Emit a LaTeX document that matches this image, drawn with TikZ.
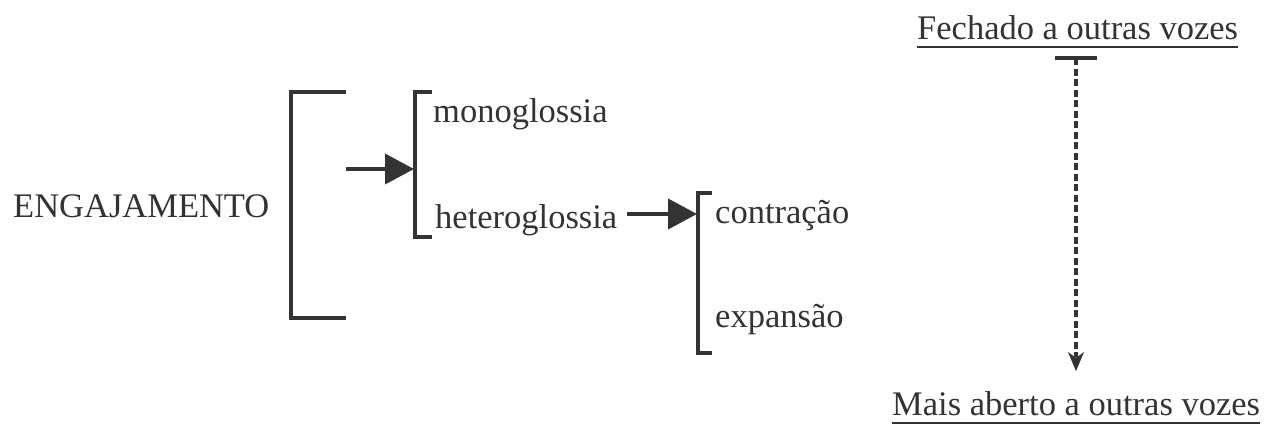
\documentclass[tikz,border=0pt]{standalone}
\usepackage{fontspec}
\setmainfont{LiberationSerif}[Extension=.ttf,UprightFont=*-Regular,BoldFont=*-Bold]
\usetikzlibrary{arrows.meta}
\definecolor{ink}{HTML}{333333}
\begin{document}
\begin{tikzpicture}[x=1pt,y=-1pt,
  lbl/.style={inner sep=0pt,anchor=base west,text=ink,font=\fontsize{34.5}{40}\selectfont},
  brack/.style={draw=ink,line width=4.5pt,line cap=butt,line join=miter},
  fatarrow/.style={draw=ink,fill=ink,line width=4pt,-{Triangle[length=29pt 0 0,width=30pt 0 0]}},
  uline/.style={draw=ink,line width=2pt}]
\useasboundingbox (0,0) rectangle (1274,431);

% labels
\node[lbl] (eng) at (13,217) {ENGAJAMENTO};
\node[lbl] (mono) at (433,122) {monoglossia};
\node[lbl] (hetero) at (435,228) {heteroglossia};
\node[lbl] (contr) at (715,223) {contração};
\node[lbl] (expan) at (715,327) {expansão};
\node[lbl] (closed) at (917,39) {Fechado a outras vozes};
\node[lbl] (open) at (892,415) {Mais aberto a outras vozes};

% outer bracket
\coordinate (b1t) at (346,92);
\coordinate (b1b) at (346,318);
\draw[brack] (b1t) -- (291,92) -- (291,318) -- (b1b);

% second-level bracket
\coordinate (b2t) at (432,92);
\coordinate (b2b) at (432,237);
\draw[brack] (b2t) -- (415,92) -- (415,237) -- (b2b);

% third-level bracket
\coordinate (b3t) at (712,193);
\coordinate (b3b) at (712,353);
\draw[brack] (b3t) -- (698,193) -- (698,353) -- (b3b);

% arrows into the brackets
\coordinate (a1s) at (346,169);
\coordinate (a1e) at (414,169);
\draw[fatarrow] (a1s) -- (a1e);
\coordinate (a2s) at (627,214);
\coordinate (a2e) at (697,214);
\draw[fatarrow] (a2s) -- (a2e);

% scale from closed to open
\coordinate (barL) at (1055,58);
\coordinate (barR) at (1097,58);
\coordinate (barM) at (1076,58);
\coordinate (headBase) at (1076,352);
\coordinate (scaleEnd) at (1076,371);
\draw[draw=ink,line width=4pt] (barL) -- (barR);
\draw[draw=ink,line width=4pt,dash pattern=on 7pt off 3.5pt] (barM) -- (1076,357);
\draw[draw=ink,fill=ink,line width=0.5pt,
      -{Stealth[length=19pt 0 0,width=16pt 0 0,inset=6pt 0 0]}] (headBase) -- (scaleEnd);

% underlines
\draw[uline] ([yshift=-8pt]closed.base west) -- ([yshift=-8pt]closed.base east);
\draw[uline] ([yshift=-8pt]open.base west) -- ([yshift=-8pt]open.base east);
\end{tikzpicture}
\end{document}
